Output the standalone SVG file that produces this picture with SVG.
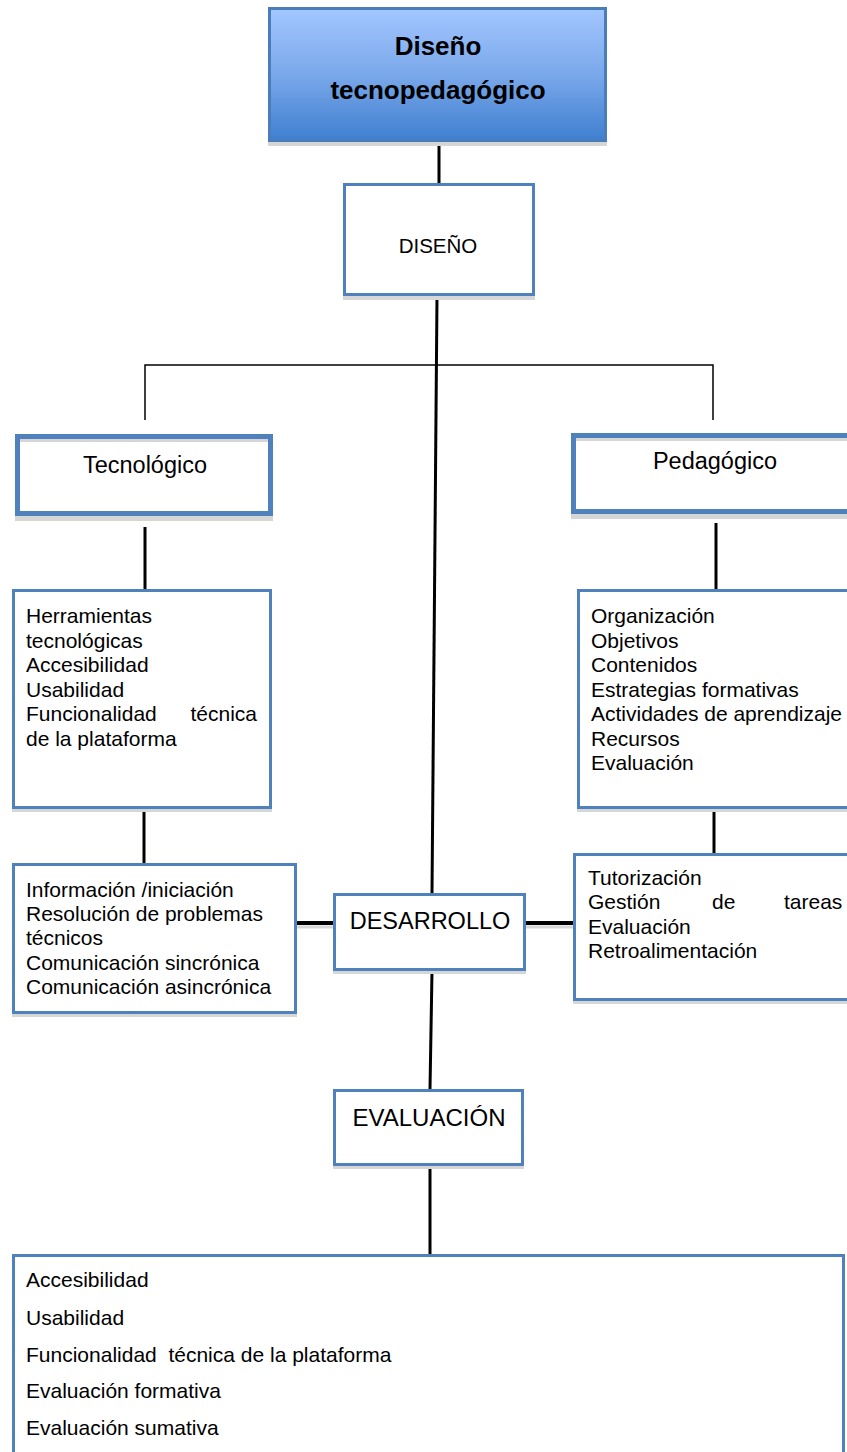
<svg xmlns="http://www.w3.org/2000/svg" width="847" height="1452" viewBox="0 0 847 1452">
<defs>
<linearGradient id="tg" x1="0" y1="0" x2="0" y2="1">
<stop offset="0" stop-color="#a3c6ff"/>
<stop offset="0.5" stop-color="#7aa8ea"/>
<stop offset="1" stop-color="#3f7fd0"/>
</linearGradient>
<style>
text{font-family:"Liberation Sans",Arial,sans-serif;fill:#000}
.box{fill:#fff;stroke:#4f81bd;stroke-width:3}
.thick{stroke-width:5}
.sh{fill:#d6d6d6}
.c{stroke:#000;stroke-width:3;fill:none}
.thin{stroke:#000;stroke-width:1.5;fill:none}
.list{font-size:21px}
.mid{text-anchor:middle}
</style>
</defs>
<rect width="847" height="1452" fill="#fff"/>
<g id="connectors">
<line class="c" x1="439" y1="142" x2="439" y2="183"/>
<line class="c" x1="437" y1="296" x2="432" y2="893"/>
<polyline class="thin" points="145,420 145,365 713,365 713,420"/>
<line class="c" x1="145" y1="527" x2="145" y2="589"/>
<line class="c" x1="716" y1="523" x2="716" y2="589"/>
<line class="c" x1="144" y1="809" x2="144" y2="863"/>
<line class="c" x1="714" y1="809" x2="714" y2="853"/>
<line stroke="#d6d6d6" stroke-width="3" x1="297" y1="927" x2="333" y2="927"/>
<line class="c" x1="297" y1="923" x2="333" y2="923" style="stroke-width:4"/>
<line stroke="#d6d6d6" stroke-width="3" x1="526" y1="927" x2="573" y2="927"/>
<line class="c" x1="526" y1="923" x2="573" y2="923" style="stroke-width:4"/>
<line class="c" x1="432" y1="971" x2="430" y2="1089"/>
<line class="c" x1="430" y1="1166" x2="430" y2="1254"/>
</g>
<g id="title">
<rect class="sh" x="268" y="140" width="339" height="6"/>
<rect x="269.5" y="8.5" width="336" height="132" fill="url(#tg)" stroke="#4a7ebb" stroke-width="3"/>
<text class="mid" x="438" y="55" font-size="26" font-weight="bold">Diseño</text>
<text class="mid" x="438" y="99" font-size="26" font-weight="bold">tecnopedagógico</text>
</g>
<g id="diseno">
<rect class="sh" x="343" y="294" width="192" height="6"/>
<rect class="box" x="344.5" y="184.5" width="189" height="110"/>
<text class="mid" x="438" y="253" font-size="20.5">DISEÑO</text>
</g>
<g id="tecnologico">
<rect class="sh" x="15" y="514" width="258" height="7"/>
<rect class="box thick" x="17.5" y="436.5" width="253" height="77"/>
<rect class="sh" x="20" y="439" width="248" height="3"/>
<text class="mid" x="145" y="473" font-size="23.5">Tecnológico</text>
</g>
<g id="pedagogico">
<rect class="sh" x="571" y="512" width="290" height="7"/>
<rect class="box thick" x="573.5" y="435.5" width="280" height="76"/>
<rect class="sh" x="576" y="438" width="280" height="3"/>
<text class="mid" x="715" y="469" font-size="23.5">Pedagógico</text>
</g>
<g id="herramientas">
<rect class="sh" x="12" y="807" width="260" height="5"/>
<rect class="box" x="13.5" y="590.5" width="257" height="217"/>
<g class="list">
<text x="26" y="623">Herramientas</text>
<text x="26" y="648">tecnológicas</text>
<text x="26" y="672">Accesibilidad</text>
<text x="26" y="697">Usabilidad</text>
<text x="26" y="721">Funcionalidad</text>
<text x="257" y="721" text-anchor="end">técnica</text>
<text x="26" y="746">de la plataforma</text>
</g>
</g>
<g id="organizacion">
<rect class="sh" x="577" y="807" width="280" height="5"/>
<rect class="box" x="578.5" y="590.5" width="280" height="217"/>
<g class="list">
<text x="591" y="623">Organización</text>
<text x="591" y="648">Objetivos</text>
<text x="591" y="672">Contenidos</text>
<text x="591" y="697">Estrategias formativas</text>
<text x="591" y="721">Actividades de aprendizaje</text>
<text x="591" y="746">Recursos</text>
<text x="591" y="770">Evaluación</text>
</g>
</g>
<g id="informacion">
<rect class="sh" x="12" y="1012" width="285" height="5"/>
<rect class="box" x="13.5" y="864.5" width="282" height="148"/>
<g class="list">
<text x="26" y="897">Información /iniciación</text>
<text x="26" y="921">Resolución de problemas</text>
<text x="26" y="945">técnicos</text>
<text x="26" y="970">Comunicación sincrónica</text>
<text x="26" y="994">Comunicación asincrónica</text>
</g>
</g>
<g id="desarrollo">
<rect class="sh" x="333" y="969" width="193" height="5"/>
<rect class="box" x="334.5" y="894.5" width="190" height="75"/>
<text class="mid" x="430" y="929" font-size="23.5">DESARROLLO</text>
</g>
<g id="tutorizacion">
<rect class="sh" x="573" y="999" width="280" height="5"/>
<rect class="box" x="574.5" y="854.5" width="280" height="145"/>
<g class="list">
<text x="588" y="885">Tutorización</text>
<text x="588" y="909">Gestión</text>
<text x="712" y="909">de</text>
<text x="784" y="909">tareas</text>
<text x="588" y="934">Evaluación</text>
<text x="588" y="958">Retroalimentación</text>
</g>
</g>
<g id="evaluacion">
<rect class="sh" x="333" y="1164" width="191" height="5"/>
<rect class="box" x="334.5" y="1090.5" width="188" height="74"/>
<text class="mid" x="429" y="1126" font-size="24">EVALUACIÓN</text>
</g>
<g id="criterios">
<rect class="box" x="13.5" y="1255.5" width="830" height="210"/>
<g class="list">
<text x="26" y="1287">Accesibilidad</text>
<text x="26" y="1325">Usabilidad</text>
<text x="26" y="1362" xml:space="preserve">Funcionalidad  técnica de la plataforma</text>
<text x="26" y="1398">Evaluación formativa</text>
<text x="26" y="1435">Evaluación sumativa</text>
</g>
</g>
</svg>
